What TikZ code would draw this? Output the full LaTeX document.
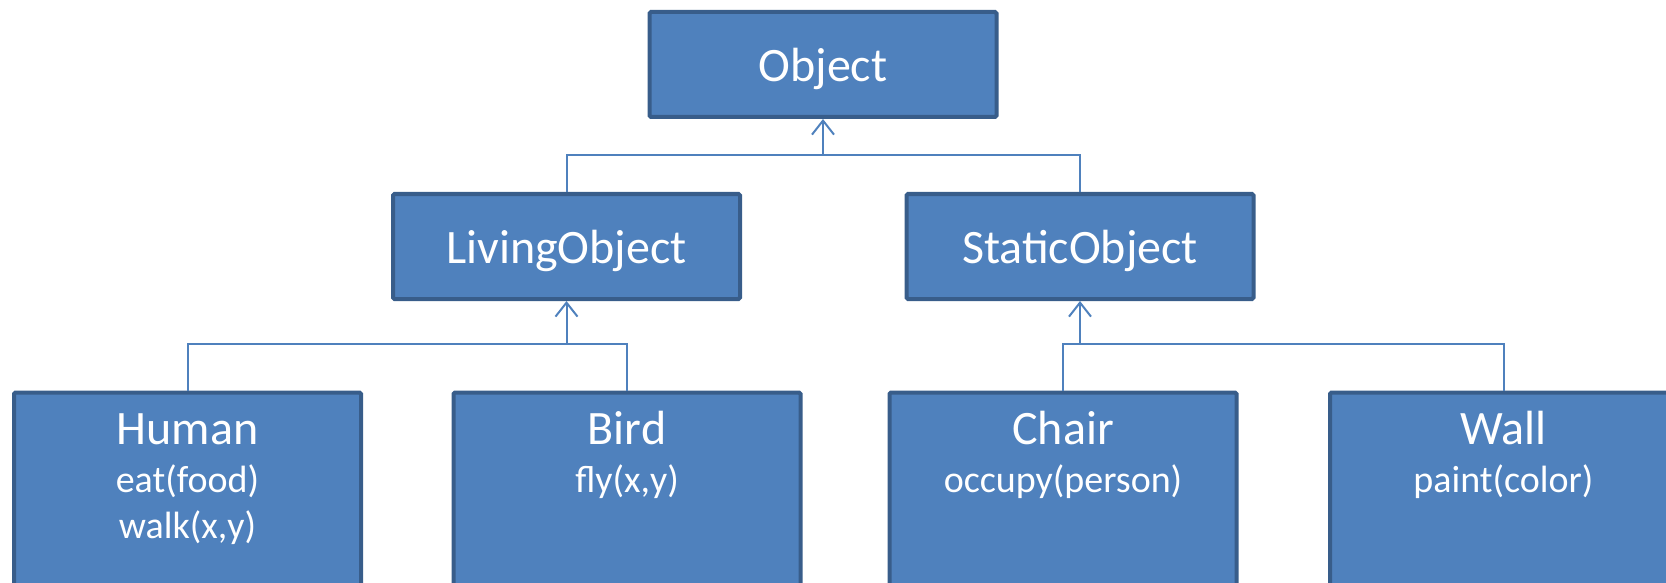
\documentclass[tikz,border=0pt]{standalone}
\usepackage{fontspec}
\setmainfont{Carlito}
\usetikzlibrary{arrows.meta}
\definecolor{boxfill}{HTML}{4F81BD}
\definecolor{boxedge}{HTML}{385D8A}
\begin{document}
\begin{tikzpicture}[x=1pt,y=-1pt,
  cls/.style={draw=boxedge,fill=boxfill,line width=4pt,rounded corners=1.5pt,
    inner sep=0pt,minimum width=347pt,minimum height=105pt,text=white,
    text height=34pt,text depth=0pt,
    font=\fontsize{48}{52}\selectfont},
  leaf/.style={cls,anchor=north,minimum height=260pt},
  title/.style={text=white,inner sep=0pt,anchor=base,font=\fontsize{48}{52}\selectfont},
  member/.style={text=white,inner sep=0pt,anchor=base,
    font=\fontsize{38}{46}\selectfont},
  link/.style={draw=boxfill,line width=2pt},
  inherit/.style={link,-{Straight Barb[length=14pt,width=22pt,line width=2pt]}}]
\useasboundingbox (0,0) rectangle (1666,583);
\clip (0,0) rectangle (1666,583);

% class boxes
\node[cls] (object) at (823,64.5) {Object};
\node[cls] (living) at (566.5,246.5) {LivingObject};
\node[cls] (static) at (1080,246.5) {StaticObject};

\node[leaf] (human) at (187.5,390.5) {};
\node[leaf] (bird)  at (627,390.5) {};
\node[leaf] (chair) at (1063,390.5) {};
\node[leaf] (wall)  at (1503.5,390.5) {};

% leaf titles and methods
\node[title] (humant) at (187.5,444) {Human};
\node[member] (humanm1) at (187.5,492) {eat(food)};
\node[member] (humanm2) at (187.5,538) {walk(x,y)};
\node[title] (birdt) at (627,444) {Bird};
\node[member] (birdm) at (627,492) {fly(x,y)};
\node[title] (chairt) at (1063,444) {Chair};
\node[member] (chairm) at (1063,492) {occupy(person)};
\node[title] (wallt) at (1503.5,444) {Wall};
\node[member] (wallm) at (1503.5,492) {paint(color)};

% bus lines
\coordinate (bus0) at (0,155);
\coordinate (bus1) at (0,344);

\draw[link] (living.north) -- (living.north |- bus0) -- (static.north |- bus0) -- (static.north);
\draw[inherit] (object.south |- bus0) -- (object.south);

\draw[link] (human.north) -- (human.north |- bus1) -- (bird.north |- bus1) -- (bird.north);
\draw[inherit] (living.south |- bus1) -- (living.south);

\draw[link] (chair.north) -- (chair.north |- bus1) -- (wall.north |- bus1) -- (wall.north);
\draw[inherit] (static.south |- bus1) -- (static.south);
\end{tikzpicture}
\end{document}
